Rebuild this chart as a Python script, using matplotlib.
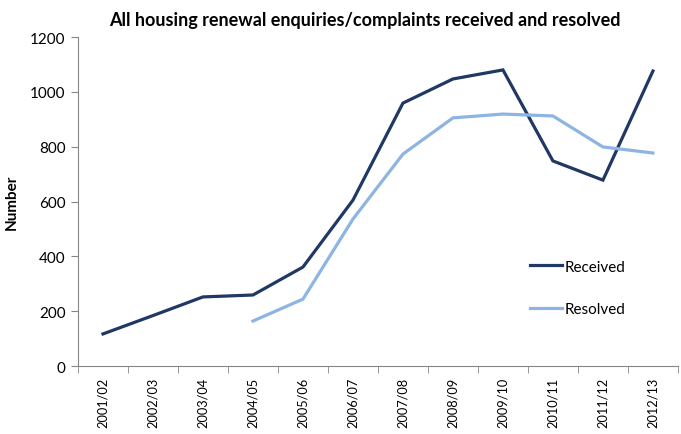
import numpy as np
import matplotlib
matplotlib.use("Agg")
import matplotlib.pyplot as plt

plt.rcParams["font.family"] = ["Lato", "DejaVu Sans"]

years = ["2001/02", "2002/03", "2003/04", "2004/05", "2005/06", "2006/07",
         "2007/08", "2008/09", "2009/10", "2010/11", "2011/12", "2012/13"]
received = [117, 184, 252, 259, 361, 605, 959, 1047, 1080, 748, 678, 1076]
resolved = [np.nan, np.nan, np.nan, 164, 244, 536, 773, 905, 919, 912, 799, 777]

AXIS_GREY = "#868686"

fig = plt.figure(figsize=(6.81, 4.35), dpi=100)
ax = fig.add_axes([0.1145, 0.1563, 0.881, 0.7563])

x = np.arange(len(years))
ax.plot(x, received, color="#1F3864", lw=2.3, label="Received",
        solid_joinstyle="miter")
ax.plot(x, resolved, color="#8DB4E2", lw=2.3, label="Resolved",
        solid_joinstyle="miter")

ax.set_xlim(-0.5, len(years) - 0.5)
ax.set_ylim(0, 1200)
ax.set_yticks(range(0, 1201, 200))
ax.tick_params(axis="y", labelsize=11, length=5, color=AXIS_GREY, pad=4)

ax.set_xticks(x)
ax.set_xticklabels(years, rotation=90, fontsize=9.2)
ax.set_xticks(np.arange(-0.5, len(years), 1.0), minor=True)
ax.tick_params(axis="x", which="major", length=0, pad=8)
ax.tick_params(axis="x", which="minor", length=5, color=AXIS_GREY)

for side in ("top", "right"):
    ax.spines[side].set_visible(False)
for side in ("left", "bottom"):
    ax.spines[side].set_color(AXIS_GREY)

ax.set_ylabel("Number", fontsize=11, fontweight="bold", labelpad=8)
ax.set_title("All housing renewal enquiries/complaints received and resolved",
             fontsize=13, fontweight="bold", pad=9, x=0.478)

ax.legend(loc="upper left", bbox_to_anchor=(0.73, 0.365), frameon=False,
          fontsize=11, labelspacing=1.85, handlelength=2.1, handletextpad=0.2)

fig.savefig("out.png", dpi=100)
